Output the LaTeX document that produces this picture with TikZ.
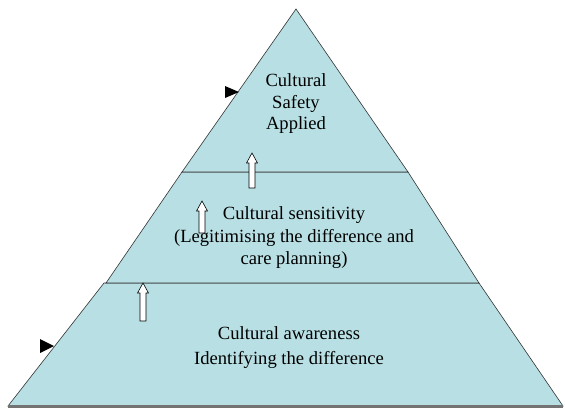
\documentclass[tikz,border=0pt]{standalone}
\usepackage{fontspec}
\setmainfont{Liberation Serif}
\usepackage{tikz}

\definecolor{pyrfill}{RGB}{184,224,228}

\tikzset{
  level/.style={fill=pyrfill, draw=black!80, line width=0.6pt, line join=miter},
  lbl/.style={align=center, font=\fontsize{18.6}{22}\selectfont},
  uparrow/.style={fill=white, draw=black, line width=0.6pt},
  marker/.style={fill=black}
}

\begin{document}
\begin{tikzpicture}[x=1pt, y=-1pt]
    \def\hw{5.5} \def\sw{3} \def\hh{10}

    \useasboundingbox (0, 0) rectangle (565, 410);

    % bottom level
    \draw [level] (104, 283) -- (479, 283) -- (563, 406) -- (8, 406) -- cycle;
    \draw [black!55, line width=2.2pt] (8, 406.5) -- (563, 406.5);

    % middle level
    \draw [level] (182, 172) -- (408, 172) -- (479, 283) -- (106, 283) -- cycle;

    % top level
    \draw [level] (296, 9) -- (408, 172) -- (182, 172) -- cycle;

    % hollow up arrows: centre x / top y / bottom y
    \foreach \cx/\yt/\yb in {252/153/188, 202/201/233, 143/283/321}
      \draw [uparrow] (\cx, \yt) -- (\cx + \hw, \yt + \hh) -- (\cx + \sw, \yt + \hh)
        -- (\cx + \sw, \yb) -- (\cx - \sw, \yb) -- (\cx - \sw, \yt + \hh)
        -- (\cx - \hw, \yt + \hh) -- cycle;

    % black markers on the left edges
    \fill [marker] (225, 86) -- (239, 92) -- (225, 98) -- cycle;
    \fill [marker] (40, 339) -- (54, 346) -- (40, 353) -- cycle;

    \node [lbl, font=\fontsize{18.6}{21.5}\selectfont] (safety) at (296, 104)
    {Cultural\\ Safety\\ Applied};

    \node [lbl, font=\fontsize{18.6}{22.5}\selectfont] (sensitivity) at (294, 238)
    {Cultural sensitivity\\ (Legitimising the difference and\\ care planning)};

    \node [lbl, font=\fontsize{18.6}{25}\selectfont] (awareness) at (289, 348)
    {Cultural awareness\\ Identifying the difference};

\end{tikzpicture}
\end{document}
